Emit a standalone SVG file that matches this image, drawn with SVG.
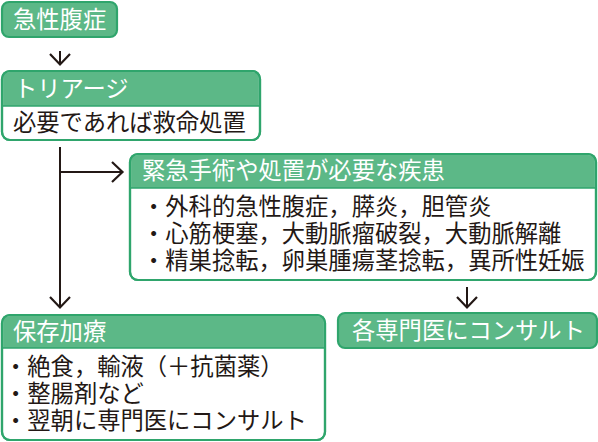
<svg xmlns="http://www.w3.org/2000/svg" width="598" height="442" viewBox="0 0 598 442">
<style>
.box{fill:#ffffff;stroke:#2fa56c;stroke-width:2.2}
.solid{fill:#5cb887;stroke:#2fa56c;stroke-width:2.2}
.hdr{fill:#5cb887}
.t{font-family:"Noto Sans CJK JP","Noto Sans CJK SC",sans-serif;font-size:23.3px}
.w{fill:#ffffff}
.k{fill:#231815}
.ln{fill:none;stroke:#231815;stroke-width:2}
</style>
<defs>
<marker id="ah" viewBox="0 0 14 22" refX="12.5" refY="11" markerWidth="14" markerHeight="22" markerUnits="userSpaceOnUse" orient="auto">
<path d="M1.5,1 L12,11 L1.5,21" fill="none" stroke="#231815" stroke-width="2.2"/>
</marker>
</defs>
<g id="connectors">
<line class="ln" x1="60" y1="51" x2="60" y2="65" marker-end="url(#ah)"/>
<line class="ln" x1="60" y1="147" x2="60" y2="308" marker-end="url(#ah)"/>
<line class="ln" x1="60" y1="172" x2="123" y2="172" marker-end="url(#ah)"/>
<line class="ln" x1="467" y1="287" x2="467" y2="308" marker-end="url(#ah)"/>
</g>
<g id="node-kyusei">
<rect class="solid" x="2" y="2" width="115" height="35" rx="7"/>
<text class="t w" x="13" y="28">急性腹症</text>
</g>
<g id="node-triage">
<rect class="box" x="2" y="71" width="258" height="69" rx="8"/>
<path class="hdr" d="M3.1,106 V79 Q3.1,72.1 10,72.1 H252 Q258.9,72.1 258.9,79 V106 Z"/>
<line x1="3" y1="106" x2="259" y2="106" stroke="#2fa56c" stroke-width="1.5"/>
<rect x="2" y="71" width="258" height="69" rx="8" fill="none" stroke="#2fa56c" stroke-width="2.2"/>
<text class="t w" x="14" y="97">トリアージ</text>
<text class="t k" x="13" y="131">必要であれば救命処置</text>
</g>
<g id="node-kinkyu">
<rect class="box" x="130" y="154" width="466" height="126" rx="8"/>
<path class="hdr" d="M131.1,188 V162 Q131.1,155.1 138,155.1 H588 Q594.9,155.1 594.9,162 V188 Z"/>
<line x1="131" y1="188" x2="595" y2="188" stroke="#2fa56c" stroke-width="1.5"/>
<rect x="130" y="154" width="466" height="126" rx="8" fill="none" stroke="#2fa56c" stroke-width="2.2"/>
<text class="t w" x="142" y="179">緊急手術や処置が必要な疾患</text>
<text class="t k" x="142" y="215">・外科的急性腹症，膵炎，胆管炎</text>
<text class="t k" x="142" y="242">・心筋梗塞，大動脈瘤破裂，大動脈解離</text>
<text class="t k" x="142" y="269">・精巣捻転，卵巣腫瘍茎捻転，異所性妊娠</text>
</g>
<g id="node-hozon">
<rect class="box" x="2" y="315" width="323" height="125" rx="8"/>
<path class="hdr" d="M3.1,348 V323 Q3.1,316.1 10,316.1 H317 Q323.9,316.1 323.9,323 V348 Z"/>
<line x1="3" y1="348" x2="324" y2="348" stroke="#2fa56c" stroke-width="1.5"/>
<rect x="2" y="315" width="323" height="125" rx="8" fill="none" stroke="#2fa56c" stroke-width="2.2"/>
<text class="t w" x="13" y="340">保存加療</text>
<text class="t k" x="4" y="375">・絶食，輸液（＋抗菌薬）</text>
<text class="t k" x="4" y="402">・整腸剤など</text>
<text class="t k" x="4" y="429">・翌朝に専門医にコンサルト</text>
</g>
<g id="node-consult">
<rect class="solid" x="338" y="313" width="259" height="35" rx="7"/>
<text class="t w" x="352" y="339">各専門医にコンサルト</text>
</g>
</svg>
